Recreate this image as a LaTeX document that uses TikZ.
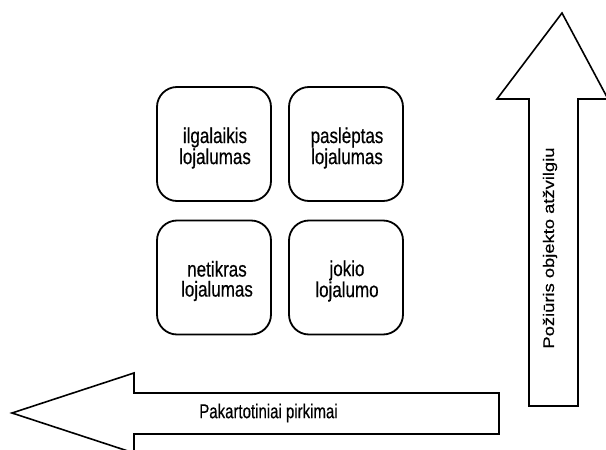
\documentclass[tikz,border=0pt]{standalone}
\usepackage{fontspec}
\setmainfont{Liberation Sans}
% narrow faces for horizontal labels, wide face for the upright label
\newfontfamily\narrowface[FakeStretch=0.79,FakeBold=0.4]{Liberation Sans}
\newfontfamily\labelface[FakeStretch=0.75,FakeBold=0.4]{Liberation Sans}
\newfontfamily\wideface[FakeStretch=1.2,FakeBold=0.4]{Liberation Sans}
\begin{document}
\begin{tikzpicture}[x=1pt,y=-1pt,
  cell/.style={draw=black, line width=1.8pt, rounded corners=20pt, fill=white,
    minimum width=114pt, minimum height=114pt, inner sep=0pt},
  celltext/.style={align=center, font=\narrowface\fontsize{21.5}{20}\selectfont},
  bigarrow/.style={draw=black, line width=1.6pt, fill=white, line join=miter}]
\useasboundingbox (0,0) rectangle (606,450);
\clip (0,0) rectangle (606,450);

% four loyalty cells
\node[cell] (c1) at (214,144) {};
\node[cell] (c2) at (346,144) {};
\node[cell] (c3) at (214,277.5) {};
\node[cell] (c4) at (346,277.5) {};
\node[celltext] (t1) at (215,148) {ilgalaikis\\lojalumas};
\node[celltext] (t2) at (347,148) {paslėptas\\lojalumas};
\node[celltext] (t3) at (217,281) {netikras\\lojalumas};
\node[celltext] (t4) at (347,281) {jokio\\lojalumo};

% horizontal block arrow: repeat purchases
\draw[bigarrow] (12,413) -- (134,373) -- (134,393) -- (499,393) -- (499,434)
  -- (134,434) -- (134,453) -- cycle;
\node[font=\labelface\fontsize{20}{20}\selectfont] (hl) at (268.5,413) {Pakartotiniai pirkimai};

% vertical block arrow: attitude towards the object
\draw[bigarrow] (562,13) -- (608,99) -- (578,99) -- (578,406) -- (529,406)
  -- (529,99) -- (497,99) -- cycle;
\node[rotate=90, font=\wideface\fontsize{15.3}{16}\selectfont] (vl) at (550,248) {Požiūris objekto atžvilgiu};
\end{tikzpicture}
\end{document}
